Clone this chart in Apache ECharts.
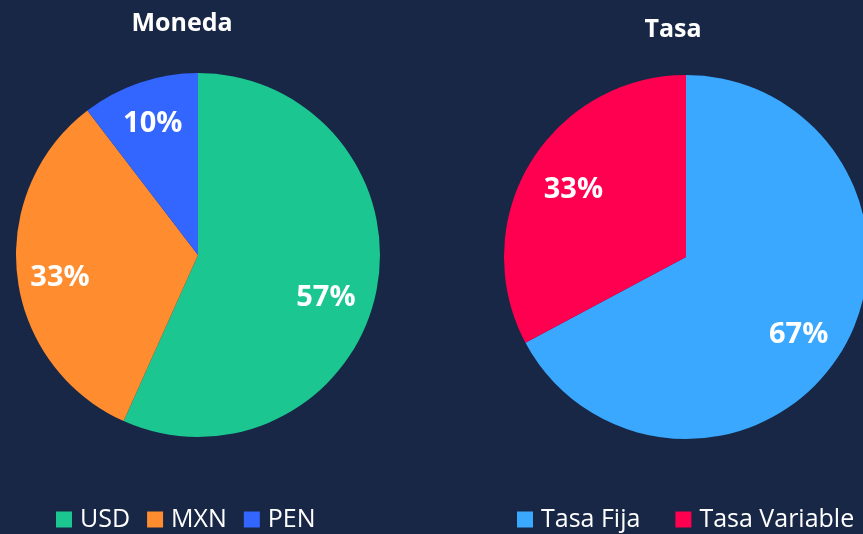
<!DOCTYPE html>
<html>
<head>
<meta charset="utf-8">
<script src="https://cdn.jsdelivr.net/npm/echarts@6/dist/echarts.min.js"></script>
<style>
html,body{margin:0;padding:0;background:#172745;}
#c{width:863px;height:534px;}
</style>
</head>
<body>
<div id="c"></div>
<script>
const monedaNames = ['USD', 'MXN', 'PEN'];
const monedaValues = [56.7, 32.9, 10.4];
const monedaColors = ['#1bc690', '#ff8c2e', '#3366ff'];
const monedaLabelNudge = [[-10, 13], [2, 6], [0, 2]];

const tasaNames = ['Tasa Fija', 'Tasa Variable'];
const tasaValues = [67.2, 32.8];
const tasaColors = ['#3aa8ff', '#ff0050'];
const tasaLabelNudge = [[-4, 8], [4, 3]];

const FONT = '"Open Sans", sans-serif';
const toData = (names, vals, cols) => names.map((n, i) => ({ name: n, value: vals[i], itemStyle: { color: cols[i] } }));
const toLabelData = (names, vals, nudge) => names.map((n, i) => ({
  name: n, value: vals[i], itemStyle: { color: 'rgba(0,0,0,0)' },
  label: { offset: nudge[i] }
}));

const labelStyle = {
  show: true, position: 'inside',
  formatter: p => Math.round(p.value) + '%',
  color: '#ffffff', fontFamily: FONT, fontWeight: 'bold', fontSize: 29
};

const chart = echarts.init(document.getElementById('c'), null, { renderer: 'canvas' });
chart.setOption({
  backgroundColor: '#172745',
  animation: false,
  title: [
    { text: 'Moneda', left: 182, top: 11, textAlign: 'center', padding: 0,
      textStyle: { color: '#ffffff', fontFamily: FONT, fontWeight: 'bold', fontSize: 25 } },
    { text: 'Tasa', left: 673, top: 17, textAlign: 'center', padding: 0,
      textStyle: { color: '#ffffff', fontFamily: FONT, fontWeight: 'bold', fontSize: 25 } }
  ],
  legend: [
    { data: monedaNames, left: 56, top: 507, padding: 0, itemWidth: 16, itemHeight: 16, itemGap: 17,
      icon: 'rect', selectedMode: false,
      textStyle: { color: '#ffffff', fontFamily: FONT, fontSize: 25, padding: [0, 0, 0, 3] } },
    { data: tasaNames, left: 517, top: 507, padding: 0, itemWidth: 16, itemHeight: 16, itemGap: 35,
      icon: 'rect', selectedMode: false,
      textStyle: { color: '#ffffff', fontFamily: FONT, fontSize: 25, padding: [0, 0, 0, 3] } }
  ],
  series: [
    { type: 'pie', center: [198, 255], radius: [0, 182], startAngle: 90, clockwise: true,
      silent: true, label: { show: false }, labelLine: { show: false },
      data: toData(monedaNames, monedaValues, monedaColors) },
    { type: 'pie', center: [686, 257], radius: [0, 182], startAngle: 90, clockwise: true,
      silent: true, label: { show: false }, labelLine: { show: false },
      data: toData(tasaNames, tasaValues, tasaColors) },
    { type: 'pie', center: [198, 255], radius: [94, 182], startAngle: 90, clockwise: true,
      silent: true, label: labelStyle, labelLine: { show: false },
      data: toLabelData(monedaNames, monedaValues, monedaLabelNudge) },
    { type: 'pie', center: [686, 257], radius: [84, 182], startAngle: 90, clockwise: true,
      silent: true, label: labelStyle, labelLine: { show: false },
      data: toLabelData(tasaNames, tasaValues, tasaLabelNudge) }
  ]
});
</script>
</body>
</html>
